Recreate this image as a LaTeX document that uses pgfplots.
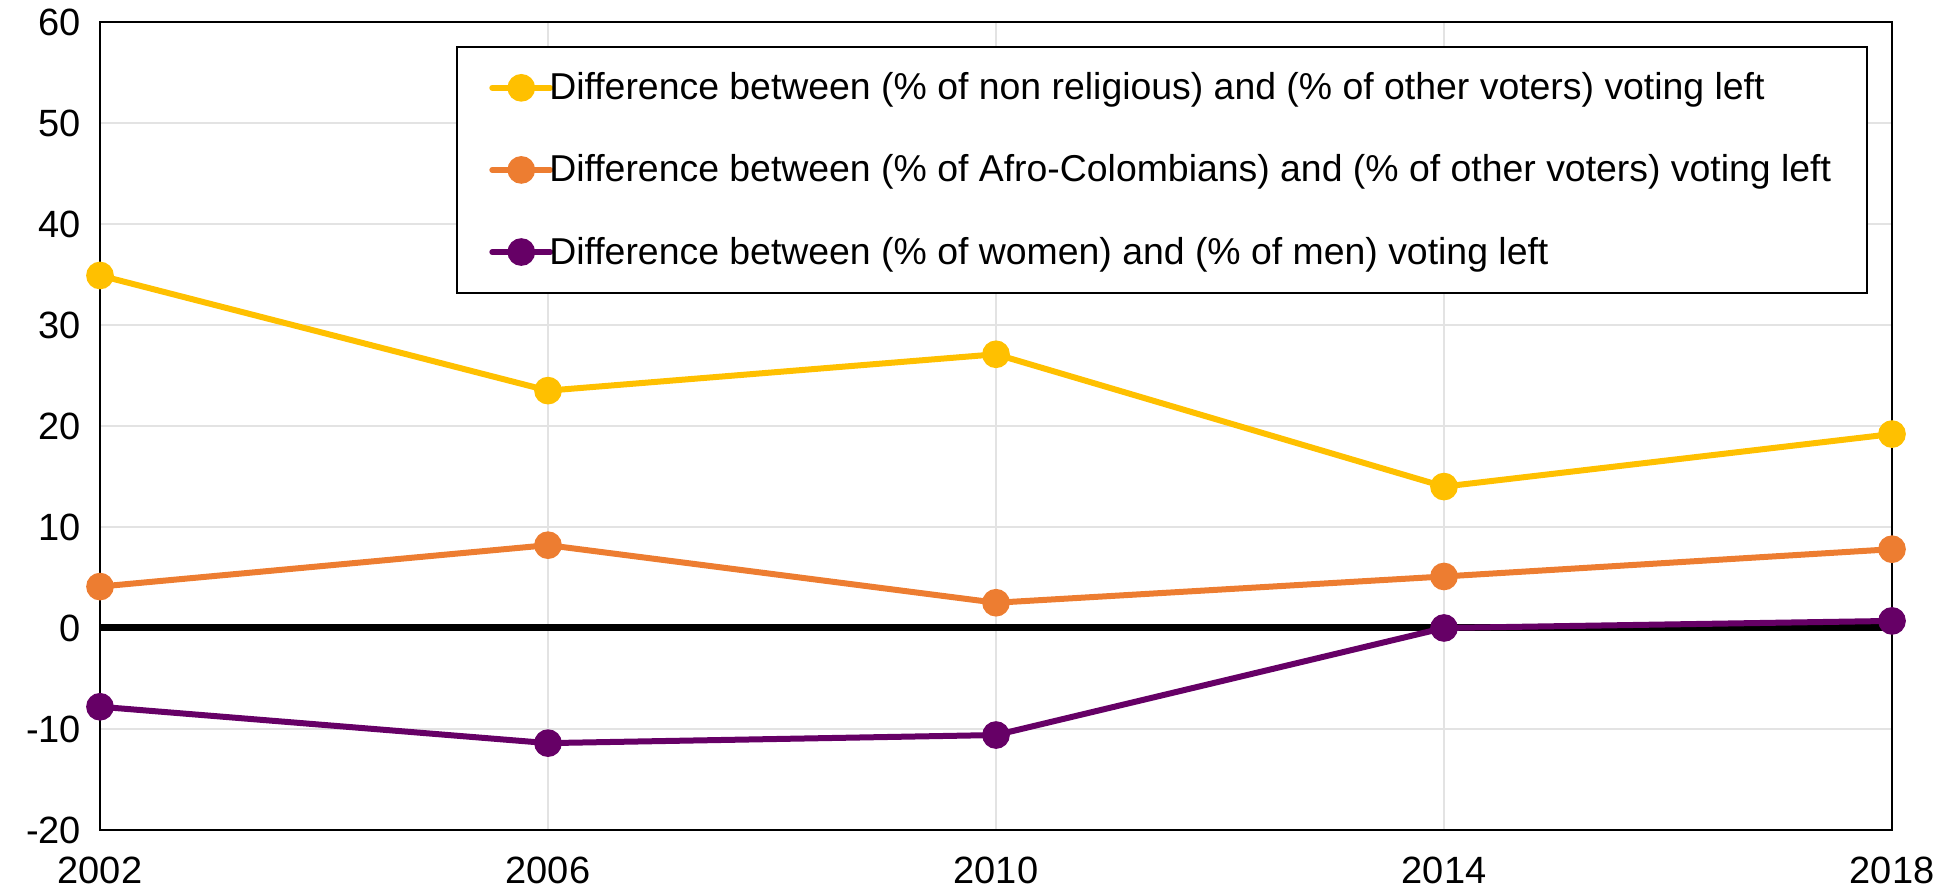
\documentclass[border=0pt]{standalone}
\usepackage{fontspec}
\setmainfont{Liberation Sans}
\usepackage{pgfplots}
\pgfplotsset{compat=1.18}
\definecolor{cyel}{HTML}{FFC000}
\definecolor{cora}{HTML}{ED7D31}
\definecolor{cpur}{HTML}{660066}
\begin{document}
\begin{tikzpicture}
\begin{axis}[
  scale only axis,
  width=896pt, height=404pt,
  xmin=2002, xmax=2018, ymin=-20, ymax=60,
  xtick={2002,2006,2010,2014,2018},
  ytick={-20,-10,0,10,20,30,40,50,60},
  xticklabel style={/pgf/number format/1000 sep={}, yshift=-10pt},
  yticklabel style={xshift=-6pt},
  /pgf/number format/assume math mode=true,
  tick label style={font=\fontsize{19pt}{22pt}\selectfont},
  major tick length=0pt,
  grid=major,
  grid style={draw=black!11, line width=0.6pt},
  axis line style={black, line width=0.8pt},
  clip=false,
  legend cell align=left,
  legend style={at={(rel axis cs:0.9866,0.9703)}, anchor=north east,
    draw=black, line width=0.8pt, font=\fontsize{18.7pt}{22pt}\selectfont,
    inner xsep=16pt, inner ysep=11pt, row sep=22pt,
    /tikz/every odd column/.append style={column sep=-4pt}},
  legend image code/.code={
    \draw[#1, line cap=round, mark repeat=2, mark phase=2] plot coordinates {(0pt,0pt) (14.5pt,0pt) (29pt,0pt)};},
]
\draw[black, line width=3.5pt] (axis cs:2002,0) -- (axis cs:2018,0);
\addplot[cyel, line width=3pt, mark=*, mark size=5.4pt, mark options={fill=cyel, draw=cyel}]
  coordinates {(2002,34.9) (2006,23.5) (2010,27.1) (2014,14.0) (2018,19.2)};
\addlegendentry{Difference between (\% of non religious) and (\% of other voters) voting left}
\addplot[cora, line width=3pt, mark=*, mark size=5.4pt, mark options={fill=cora, draw=cora}]
  coordinates {(2002,4.1) (2006,8.2) (2010,2.5) (2014,5.1) (2018,7.8)};
\addlegendentry{Difference between (\% of Afro-Colombians) and (\% of other voters) voting left}
\addplot[cpur, line width=3pt, mark=*, mark size=5.4pt, mark options={fill=cpur, draw=cpur}]
  coordinates {(2002,-7.8) (2006,-11.4) (2010,-10.6) (2014,0.0) (2018,0.7)};
\addlegendentry{Difference between (\% of women) and (\% of men) voting left}
\end{axis}
\path (current axis.south west) ++(-50pt,-32pt) (current axis.north east) ++(32.5pt,11pt);
\end{tikzpicture}
\end{document}
